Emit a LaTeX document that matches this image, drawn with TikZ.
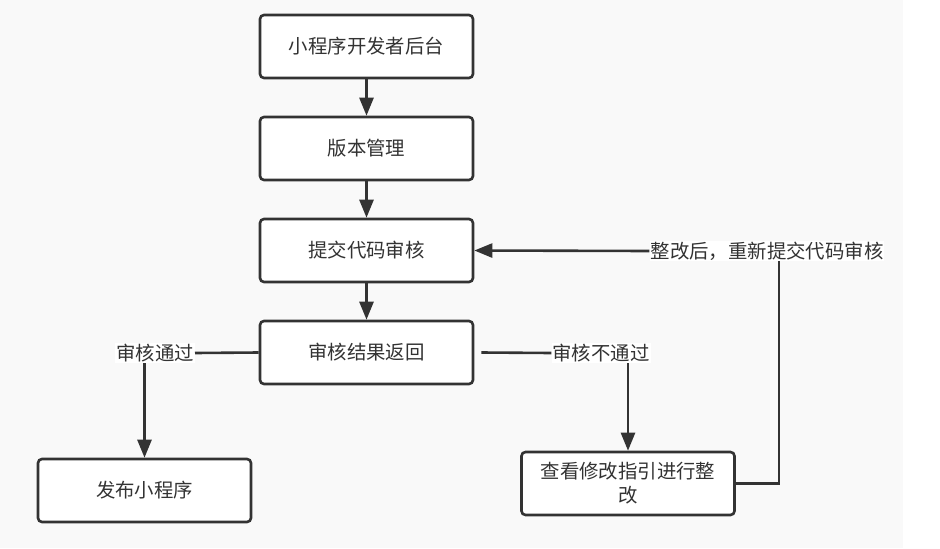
\documentclass[tikz,border=0pt]{standalone}
\usepackage{fontspec}
\setmainfont{Noto Sans CJK SC}
\usetikzlibrary{arrows.meta}
\definecolor{ink}{HTML}{333333}
\definecolor{bggray}{HTML}{F9F9F9}
\begin{document}
\begin{tikzpicture}[x=1pt,y=-1pt,
  stepbox/.style={draw=ink, line width=2.6pt, fill=white, rounded corners=4pt,
    minimum width=213pt, minimum height=63pt, inner sep=0pt, align=center,
    text=ink, font=\fontsize{19.4}{24}\selectfont},
  lbl/.style={fill=white, inner sep=1pt, text=ink, font=\fontsize{19.4}{22}\selectfont},
  conn/.style={draw=ink, line width=2.6pt},
  arr/.style={conn, -{Triangle[length=18pt,width=14pt]}}]
\useasboundingbox (0,0) rectangle (940,549);
\fill[bggray] (0,0) rectangle (903,548);
\node[stepbox] (b1) at (366.5,46.5) {小程序开发者后台};
\node[stepbox] (b2) at (366.5,148.5) {版本管理};
\node[stepbox] (b3) at (366.5,250.5) {提交代码审核};
\node[stepbox] (b4) at (366.5,352.5) {审核结果返回};
\node[stepbox] (b6) at (144.5,490.5) {发布小程序};
\node[stepbox] (b5) at (628,483.5) {查看修改指引进行整\\改};
\node[lbl] (l1) at (155,353) {审核通过};
\node[lbl] (l2) at (601,353) {审核不通过};
\node[lbl] (l3) at (767,251) {整改后，重新提交代码审核};
\draw[arr] (b1) -- (b2);
\draw[arr] (b2) -- (b3);
\draw[arr] (b3) -- (b4);
\draw[conn] (b4.west) -- (l1.east);
\draw[arr] (l1.south -| b6.north) -- (b6.north);
\draw[conn] ([xshift=7pt]b4.east) -- (l2.west);
\draw[arr] (l2.south -| b5.north) -- (b5.north);
\coordinate (c1) at (779,483.5);
\draw[conn] (b5.east) -- (c1) -- (c1 |- l3.south);
\draw[arr] (l3.west) -- (b3.east);
\end{tikzpicture}
\end{document}
